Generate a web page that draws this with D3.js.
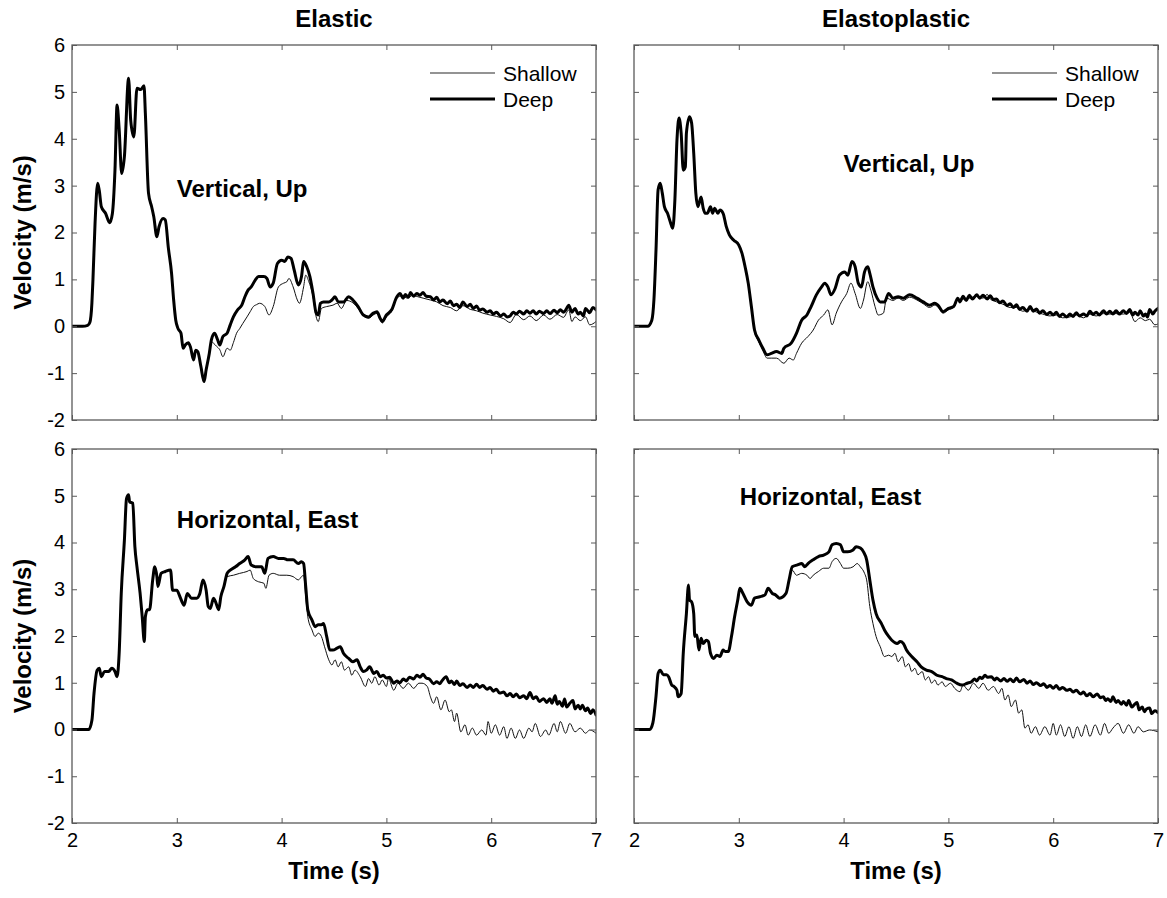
<!DOCTYPE html>
<html><head><meta charset="utf-8">
<script src="https://cdn.jsdelivr.net/npm/d3@7"></script>
<style>
body{margin:0;background:#fff;}
svg text{font-family:"Liberation Sans",Arial,Helvetica,sans-serif;}
</style>
</head><body>
<svg id="chart" width="1167" height="898"></svg>
<script>
// ---------------- data ----------------
const timeTicks = [2, 3, 4, 5, 6, 7];
const velocityTicks = [-2, -1, 0, 1, 2, 3, 4, 5, 6];
const columnTitles = ["Elastic", "Elastoplastic"];
const componentLabels = ["Vertical, Up", "Horizontal, East"];
const seriesNames = ["Shallow", "Deep"];
const xAxisTitle = "Time (s)";
const yAxisTitle = "Velocity (m/s)";

// [time (s), velocity (m/s)]
const elasticVerticalDeep = [[2.00,0],[2.10,0],[2.15,0.02],[2.17,0.08],[2.19,0.5],[2.20,1.0],[2.22,2.2],[2.245,3.05],[2.26,2.9],[2.28,2.55],[2.32,2.41],[2.36,2.21],[2.385,2.4],[2.41,3.33],[2.43,4.72],[2.45,4.2],[2.474,3.26],[2.50,3.62],[2.54,5.29],[2.56,4.4],[2.59,4.04],[2.62,5.08],[2.655,5.05],[2.687,5.13],[2.70,4.54],[2.73,2.84],[2.76,2.55],[2.78,2.34],[2.81,1.91],[2.83,2.12],[2.87,2.3],[2.89,2.27],[2.92,1.66],[2.95,1.13],[2.97,0.56],[2.99,0.13],[3.01,-0.04],[3.04,-0.15],[3.06,-0.47],[3.08,-0.4],[3.11,-0.35],[3.13,-0.44],[3.16,-0.72],[3.18,-0.51],[3.20,-0.54],[3.23,-0.86],[3.26,-1.18],[3.28,-0.93],[3.31,-0.58],[3.33,-0.29],[3.36,-0.15],[3.39,-0.29],[3.41,-0.40],[3.44,-0.22],[3.48,-0.15],[3.51,0.03],[3.54,0.20],[3.58,0.35],[3.62,0.45],[3.65,0.63],[3.68,0.77],[3.71,0.84],[3.75,0.99],[3.78,1.06],[3.83,1.06],[3.86,1.02],[3.89,0.84],[3.92,0.92],[3.96,1.34],[4.00,1.41],[4.03,1.38],[4.06,1.48],[4.09,1.45],[4.12,1.20],[4.16,0.88],[4.19,1.06],[4.21,1.38],[4.24,1.27],[4.27,1.06],[4.30,0.70],[4.33,0.28],[4.35,0.24],[4.37,0.49],[4.40,0.52],[4.45,0.52],[4.48,0.56],[4.51,0.63],[4.54,0.52],[4.59,0.52],[4.64,0.63],[4.68,0.56],[4.73,0.42],[4.78,0.24],[4.83,0.20],[4.875,0.28],[4.91,0.31],[4.94,0.17],[4.96,0.10],[5.00,0.24],[5.05,0.35],[5.10,0.63],[5.13,0.70],[5.16,0.60],[5.18,0.68],[5.21,0.62],[5.23,0.72],[5.26,0.64],[5.29,0.70],[5.32,0.66],[5.35,0.72],[5.38,0.64],[5.42,0.63],[5.45,0.56],[5.48,0.62],[5.51,0.52],[5.54,0.56],[5.58,0.48],[5.61,0.54],[5.64,0.44],[5.67,0.47],[5.70,0.40],[5.73,0.52],[5.77,0.42],[5.80,0.47],[5.83,0.38],[5.86,0.43],[5.89,0.34],[5.92,0.37],[5.96,0.30],[5.99,0.33],[6.02,0.26],[6.05,0.30],[6.09,0.22],[6.12,0.26],[6.15,0.20],[6.18,0.22],[6.21,0.30],[6.24,0.26],[6.27,0.32],[6.31,0.26],[6.34,0.33],[6.37,0.28],[6.40,0.33],[6.43,0.26],[6.46,0.32],[6.50,0.27],[6.53,0.33],[6.56,0.27],[6.60,0.34],[6.63,0.29],[6.66,0.35],[6.69,0.30],[6.72,0.38],[6.74,0.45],[6.77,0.30],[6.80,0.38],[6.83,0.26],[6.85,0.30],[6.88,0.22],[6.90,0.38],[6.94,0.29],[6.97,0.40],[7.00,0.35]];
const elasticVerticalShallow = [[2.00,0],[2.10,0],[2.15,0.02],[2.17,0.08],[2.19,0.5],[2.20,1.0],[2.22,2.2],[2.245,3.05],[2.26,2.9],[2.28,2.55],[2.32,2.41],[2.36,2.21],[2.385,2.4],[2.41,3.33],[2.43,4.72],[2.45,4.2],[2.474,3.26],[2.50,3.62],[2.54,5.29],[2.56,4.4],[2.59,4.04],[2.62,5.08],[2.655,5.05],[2.687,5.13],[2.70,4.54],[2.73,2.84],[2.76,2.55],[2.78,2.34],[2.81,1.91],[2.83,2.12],[2.87,2.3],[2.89,2.27],[2.92,1.66],[2.95,1.13],[2.97,0.56],[2.99,0.13],[3.01,-0.04],[3.04,-0.15],[3.06,-0.47],[3.08,-0.4],[3.11,-0.35],[3.13,-0.44],[3.16,-0.72],[3.18,-0.51],[3.20,-0.54],[3.23,-0.86],[3.26,-1.18],[3.28,-0.93],[3.31,-0.58],[3.33,-0.33],[3.35,-0.36],[3.38,-0.43],[3.41,-0.50],[3.44,-0.65],[3.48,-0.47],[3.51,-0.51],[3.54,-0.35],[3.57,-0.15],[3.60,-0.05],[3.63,0.06],[3.67,0.20],[3.70,0.31],[3.73,0.42],[3.76,0.46],[3.79,0.49],[3.84,0.42],[3.88,0.24],[3.92,0.42],[3.97,0.84],[4.02,0.92],[4.05,0.95],[4.07,1.02],[4.11,0.84],[4.15,0.56],[4.17,0.49],[4.21,0.84],[4.23,1.09],[4.26,0.95],[4.30,0.63],[4.33,0.20],[4.35,0.10],[4.38,0.38],[4.43,0.42],[4.49,0.45],[4.53,0.49],[4.57,0.38],[4.62,0.55],[4.68,0.50],[4.73,0.38],[4.78,0.22],[4.83,0.17],[4.88,0.25],[4.92,0.28],[4.96,0.07],[5.00,0.20],[5.05,0.32],[5.10,0.60],[5.15,0.65],[5.20,0.60],[5.25,0.66],[5.30,0.63],[5.35,0.60],[5.42,0.56],[5.48,0.52],[5.54,0.44],[5.61,0.40],[5.67,0.33],[5.73,0.44],[5.80,0.36],[5.86,0.33],[5.92,0.28],[5.99,0.24],[6.05,0.21],[6.12,0.16],[6.18,0.08],[6.24,0.25],[6.31,0.14],[6.37,0.22],[6.43,0.12],[6.50,0.24],[6.56,0.15],[6.63,0.25],[6.69,0.19],[6.74,0.35],[6.77,0.10],[6.80,0.20],[6.85,0.12],[6.90,0.20],[6.94,0.03],[7.00,0.10]];

const plasticVerticalDeep = [[2.00,0],[2.13,0],[2.17,0.13],[2.19,0.56],[2.21,1.63],[2.23,2.91],[2.25,3.05],[2.27,2.84],[2.29,2.55],[2.32,2.41],[2.35,2.2],[2.37,2.09],[2.39,2.69],[2.41,3.97],[2.43,4.44],[2.45,4.12],[2.47,3.33],[2.49,3.40],[2.50,4.12],[2.53,4.47],[2.55,4.33],[2.57,3.69],[2.59,2.84],[2.61,2.55],[2.64,2.76],[2.66,2.52],[2.68,2.41],[2.70,2.41],[2.73,2.55],[2.75,2.41],[2.77,2.52],[2.80,2.41],[2.82,2.48],[2.85,2.41],[2.88,2.13],[2.91,1.95],[2.95,1.84],[3.00,1.73],[3.03,1.56],[3.06,1.27],[3.09,0.92],[3.12,0.42],[3.15,-0.08],[3.19,-0.29],[3.23,-0.47],[3.27,-0.61],[3.31,-0.58],[3.36,-0.54],[3.41,-0.58],[3.43,-0.47],[3.50,-0.36],[3.55,-0.15],[3.60,0.13],[3.65,0.24],[3.69,0.42],[3.74,0.67],[3.79,0.84],[3.82,0.92],[3.85,0.84],[3.88,0.67],[3.92,0.81],[3.96,1.09],[4.01,1.16],[4.04,1.09],[4.08,1.38],[4.11,1.27],[4.14,0.92],[4.17,0.84],[4.20,1.16],[4.23,1.27],[4.25,1.13],[4.28,0.84],[4.32,0.60],[4.35,0.52],[4.39,0.52],[4.43,0.70],[4.47,0.60],[4.52,0.63],[4.57,0.60],[4.63,0.67],[4.70,0.60],[4.76,0.52],[4.82,0.45],[4.87,0.49],[4.90,0.45],[4.95,0.31],[5.00,0.38],[5.05,0.42],[5.09,0.60],[5.11,0.52],[5.14,0.64],[5.17,0.55],[5.20,0.66],[5.23,0.58],[5.27,0.67],[5.30,0.60],[5.33,0.66],[5.37,0.58],[5.40,0.65],[5.43,0.57],[5.46,0.58],[5.49,0.50],[5.52,0.54],[5.56,0.44],[5.59,0.48],[5.62,0.40],[5.65,0.46],[5.68,0.36],[5.71,0.40],[5.75,0.32],[5.78,0.42],[5.81,0.32],[5.84,0.37],[5.87,0.28],[5.90,0.33],[5.94,0.25],[5.97,0.30],[6.00,0.24],[6.03,0.30],[6.06,0.21],[6.09,0.26],[6.13,0.20],[6.16,0.26],[6.19,0.21],[6.22,0.29],[6.25,0.22],[6.29,0.26],[6.32,0.22],[6.35,0.32],[6.38,0.25],[6.41,0.30],[6.44,0.24],[6.48,0.33],[6.51,0.26],[6.54,0.32],[6.57,0.26],[6.60,0.33],[6.63,0.26],[6.67,0.33],[6.70,0.27],[6.73,0.36],[6.76,0.24],[6.78,0.30],[6.81,0.24],[6.83,0.33],[6.86,0.22],[6.88,0.26],[6.90,0.20],[6.92,0.36],[6.95,0.26],[6.97,0.32],[7.00,0.38]];
const plasticVerticalShallow = [[2.00,0],[2.13,0],[2.17,0.13],[2.19,0.56],[2.21,1.63],[2.23,2.91],[2.25,3.05],[2.27,2.84],[2.29,2.55],[2.32,2.41],[2.35,2.2],[2.37,2.09],[2.39,2.69],[2.41,3.97],[2.43,4.44],[2.45,4.12],[2.47,3.33],[2.49,3.40],[2.50,4.12],[2.53,4.47],[2.55,4.33],[2.57,3.69],[2.59,2.84],[2.61,2.55],[2.64,2.76],[2.66,2.52],[2.68,2.41],[2.70,2.41],[2.73,2.55],[2.75,2.41],[2.77,2.52],[2.80,2.41],[2.82,2.48],[2.85,2.41],[2.88,2.13],[2.91,1.95],[2.95,1.84],[3.00,1.73],[3.03,1.56],[3.06,1.27],[3.09,0.92],[3.12,0.42],[3.15,-0.10],[3.19,-0.33],[3.23,-0.52],[3.27,-0.68],[3.31,-0.68],[3.36,-0.68],[3.43,-0.79],[3.48,-0.68],[3.52,-0.72],[3.55,-0.58],[3.60,-0.36],[3.66,-0.22],[3.71,-0.08],[3.76,0.13],[3.81,0.24],[3.85,0.35],[3.89,0.03],[3.93,0.28],[3.98,0.52],[4.03,0.70],[4.07,0.92],[4.11,0.70],[4.16,0.38],[4.19,0.56],[4.23,0.95],[4.26,0.77],[4.30,0.42],[4.33,0.24],[4.38,0.28],[4.41,0.60],[4.47,0.55],[4.52,0.60],[4.57,0.55],[4.63,0.62],[4.70,0.56],[4.76,0.48],[4.82,0.40],[4.87,0.45],[4.90,0.41],[4.95,0.28],[5.00,0.35],[5.05,0.40],[5.09,0.56],[5.14,0.58],[5.20,0.60],[5.27,0.64],[5.33,0.60],[5.37,0.68],[5.40,0.58],[5.46,0.52],[5.52,0.47],[5.59,0.40],[5.65,0.40],[5.71,0.32],[5.78,0.37],[5.84,0.30],[5.90,0.26],[5.97,0.22],[6.03,0.24],[6.09,0.18],[6.16,0.20],[6.22,0.24],[6.29,0.18],[6.35,0.26],[6.41,0.22],[6.48,0.27],[6.54,0.26],[6.60,0.27],[6.67,0.26],[6.73,0.30],[6.78,0.10],[6.83,0.18],[6.88,0.12],[6.92,0.15],[6.97,0.03],[7.00,0.05]];

const elasticHorizontalDeep = [[2.00,0],[2.16,0],[2.19,0.2],[2.21,0.77],[2.24,1.27],[2.26,1.31],[2.28,1.13],[2.31,1.24],[2.35,1.24],[2.38,1.31],[2.41,1.24],[2.43,1.13],[2.45,1.63],[2.47,2.91],[2.50,4.05],[2.52,4.94],[2.54,5.02],[2.55,4.87],[2.58,4.84],[2.60,3.91],[2.62,3.48],[2.65,2.91],[2.67,2.41],[2.69,1.88],[2.70,2.41],[2.72,2.56],[2.74,2.56],[2.77,3.20],[2.79,3.48],[2.81,3.27],[2.82,3.06],[2.85,3.34],[2.89,3.38],[2.94,3.41],[2.96,2.98],[3.00,2.98],[3.03,2.84],[3.07,2.66],[3.10,2.91],[3.14,2.81],[3.19,2.81],[3.22,2.91],[3.25,3.20],[3.28,2.98],[3.30,2.63],[3.32,2.59],[3.35,2.81],[3.37,2.73],[3.40,2.56],[3.42,2.84],[3.45,3.06],[3.48,3.34],[3.51,3.41],[3.56,3.48],[3.60,3.55],[3.65,3.63],[3.68,3.70],[3.71,3.52],[3.76,3.48],[3.81,3.48],[3.84,3.34],[3.87,3.66],[3.92,3.70],[3.97,3.66],[4.02,3.66],[4.06,3.63],[4.11,3.63],[4.16,3.55],[4.19,3.59],[4.21,3.55],[4.23,3.06],[4.25,2.56],[4.29,2.34],[4.32,2.20],[4.35,2.24],[4.38,2.24],[4.40,2.27],[4.43,1.99],[4.46,1.70],[4.49,1.70],[4.53,1.74],[4.56,1.77],[4.59,1.63],[4.64,1.52],[4.68,1.45],[4.72,1.49],[4.75,1.34],[4.78,1.24],[4.81,1.27],[4.84,1.34],[4.88,1.20],[4.91,1.24],[4.94,1.13],[4.97,1.16],[5.00,1.10],[5.03,1.12],[5.07,0.99],[5.10,1.04],[5.13,1.00],[5.16,1.08],[5.19,1.04],[5.22,1.12],[5.26,1.08],[5.29,1.16],[5.32,1.12],[5.35,1.18],[5.38,1.10],[5.41,1.08],[5.45,0.98],[5.48,1.02],[5.51,0.98],[5.53,1.04],[5.57,1.13],[5.60,1.00],[5.62,1.04],[5.65,0.96],[5.67,1.04],[5.70,0.94],[5.73,0.98],[5.77,0.90],[5.80,0.95],[5.83,0.90],[5.86,0.97],[5.89,0.90],[5.92,0.94],[5.96,0.86],[5.99,0.90],[6.02,0.82],[6.05,0.86],[6.08,0.78],[6.12,0.80],[6.15,0.72],[6.18,0.77],[6.21,0.70],[6.24,0.76],[6.27,0.68],[6.31,0.72],[6.34,0.66],[6.37,0.79],[6.40,0.66],[6.43,0.70],[6.46,0.60],[6.50,0.66],[6.53,0.58],[6.56,0.66],[6.58,0.56],[6.61,0.72],[6.63,0.54],[6.65,0.60],[6.68,0.50],[6.70,0.65],[6.72,0.48],[6.75,0.56],[6.78,0.62],[6.80,0.44],[6.83,0.52],[6.85,0.44],[6.87,0.52],[6.90,0.40],[6.92,0.46],[6.95,0.34],[6.97,0.42],[7.00,0.31]];
const elasticHorizontalShallow = [[2.00,0],[2.16,0],[2.19,0.2],[2.21,0.77],[2.24,1.27],[2.26,1.31],[2.28,1.13],[2.31,1.24],[2.35,1.24],[2.38,1.31],[2.41,1.24],[2.43,1.13],[2.45,1.63],[2.47,2.91],[2.50,4.05],[2.52,4.94],[2.54,5.02],[2.55,4.87],[2.58,4.84],[2.60,3.91],[2.62,3.48],[2.65,2.91],[2.67,2.41],[2.69,1.88],[2.70,2.41],[2.72,2.56],[2.74,2.56],[2.77,3.20],[2.79,3.48],[2.81,3.27],[2.82,3.06],[2.85,3.34],[2.89,3.38],[2.94,3.41],[2.96,2.98],[3.00,2.98],[3.03,2.84],[3.07,2.66],[3.10,2.91],[3.14,2.81],[3.19,2.81],[3.22,2.91],[3.25,3.20],[3.28,2.98],[3.30,2.63],[3.32,2.59],[3.35,2.81],[3.37,2.73],[3.40,2.56],[3.42,2.84],[3.45,3.04],[3.48,3.27],[3.54,3.30],[3.60,3.34],[3.67,3.38],[3.70,3.41],[3.73,3.23],[3.78,3.16],[3.83,3.13],[3.85,3.02],[3.88,3.30],[3.92,3.34],[3.98,3.30],[4.05,3.30],[4.11,3.27],[4.16,3.20],[4.19,3.27],[4.21,3.30],[4.23,2.84],[4.25,2.41],[4.29,2.13],[4.32,1.99],[4.35,2.06],[4.38,1.99],[4.41,1.77],[4.45,1.49],[4.48,1.38],[4.51,1.49],[4.54,1.34],[4.57,1.45],[4.60,1.27],[4.64,1.34],[4.67,1.16],[4.70,1.27],[4.75,1.13],[4.80,0.92],[4.83,1.09],[4.86,0.99],[4.89,1.13],[4.93,0.95],[4.96,1.06],[5.00,0.92],[5.02,1.09],[5.07,0.84],[5.11,0.99],[5.16,0.88],[5.21,0.99],[5.26,0.88],[5.31,0.99],[5.34,0.99],[5.39,0.92],[5.42,0.70],[5.45,0.56],[5.48,0.70],[5.52,0.42],[5.56,0.63],[5.60,0.38],[5.62,0.42],[5.65,0.17],[5.67,0.35],[5.71,-0.05],[5.75,0.10],[5.78,-0.12],[5.82,0.03],[5.86,-0.12],[5.91,-0.01],[5.95,-0.12],[5.97,0.17],[6.00,-0.08],[6.04,0.10],[6.08,-0.12],[6.12,0.06],[6.15,-0.19],[6.19,0.03],[6.23,-0.19],[6.27,-0.01],[6.31,-0.19],[6.36,0.03],[6.39,-0.05],[6.42,0.13],[6.47,-0.15],[6.52,-0.01],[6.55,-0.12],[6.60,0.13],[6.63,-0.05],[6.66,0.17],[6.71,-0.08],[6.75,0.13],[6.80,-0.05],[6.85,0.03],[6.90,-0.08],[6.94,-0.01],[7.00,-0.08]];

const plasticHorizontalDeep = [[2.00,0],[2.15,0],[2.18,0.14],[2.21,0.71],[2.23,1.20],[2.25,1.27],[2.28,1.17],[2.31,1.17],[2.33,1.13],[2.36,0.95],[2.38,0.92],[2.41,0.84],[2.42,0.70],[2.45,0.77],[2.47,1.63],[2.50,2.48],[2.52,3.09],[2.53,2.77],[2.55,2.73],[2.57,2.48],[2.58,1.99],[2.60,2.02],[2.62,1.70],[2.64,1.95],[2.66,1.84],[2.69,1.91],[2.71,1.88],[2.73,1.63],[2.76,1.52],[2.79,1.59],[2.82,1.56],[2.85,1.70],[2.87,1.67],[2.90,1.67],[2.93,1.99],[2.96,2.41],[2.99,2.77],[3.01,3.02],[3.04,2.91],[3.08,2.73],[3.12,2.66],[3.15,2.81],[3.20,2.84],[3.25,2.88],[3.28,3.02],[3.32,2.91],[3.35,2.88],[3.39,2.81],[3.45,2.91],[3.48,3.20],[3.51,3.48],[3.56,3.52],[3.60,3.55],[3.63,3.48],[3.66,3.55],[3.71,3.63],[3.76,3.70],[3.81,3.73],[3.86,3.80],[3.89,3.95],[3.93,3.98],[3.97,3.95],[4.00,3.80],[4.04,3.80],[4.09,3.84],[4.12,3.91],[4.16,3.88],[4.19,3.80],[4.22,3.63],[4.25,3.20],[4.28,2.77],[4.31,2.48],[4.36,2.27],[4.39,2.13],[4.43,1.99],[4.46,1.91],[4.51,1.84],[4.54,1.88],[4.57,1.84],[4.60,1.70],[4.65,1.56],[4.70,1.45],[4.74,1.34],[4.79,1.27],[4.84,1.24],[4.89,1.16],[4.94,1.13],[4.98,1.09],[5.03,1.06],[5.08,0.99],[5.13,0.95],[5.18,0.99],[5.22,1.02],[5.25,1.08],[5.27,1.04],[5.30,1.12],[5.32,1.09],[5.35,1.16],[5.37,1.12],[5.41,1.13],[5.44,1.06],[5.46,1.10],[5.50,1.04],[5.53,1.09],[5.56,1.03],[5.59,1.08],[5.62,1.02],[5.65,1.10],[5.68,1.02],[5.72,1.07],[5.75,0.99],[5.78,1.04],[5.81,0.96],[5.84,1.00],[5.88,0.94],[5.91,0.98],[5.94,0.90],[5.97,0.94],[6.00,0.88],[6.03,0.94],[6.06,0.86],[6.09,0.90],[6.13,0.84],[6.16,0.86],[6.19,0.80],[6.22,0.84],[6.26,0.76],[6.29,0.80],[6.32,0.72],[6.35,0.77],[6.38,0.70],[6.42,0.76],[6.45,0.68],[6.48,0.70],[6.50,0.62],[6.52,0.66],[6.55,0.60],[6.57,0.70],[6.60,0.58],[6.62,0.62],[6.65,0.54],[6.67,0.60],[6.70,0.52],[6.72,0.62],[6.75,0.48],[6.77,0.52],[6.80,0.58],[6.82,0.42],[6.85,0.48],[6.87,0.38],[6.89,0.44],[6.92,0.46],[6.94,0.34],[6.97,0.40],[7.00,0.36]];
const plasticHorizontalShallow = [[2.00,0],[2.15,0],[2.18,0.14],[2.21,0.71],[2.23,1.20],[2.25,1.27],[2.28,1.17],[2.31,1.17],[2.33,1.13],[2.36,0.95],[2.38,0.92],[2.41,0.84],[2.42,0.70],[2.45,0.77],[2.47,1.63],[2.50,2.48],[2.52,3.09],[2.53,2.77],[2.55,2.73],[2.57,2.48],[2.58,1.99],[2.60,2.02],[2.62,1.70],[2.64,1.95],[2.66,1.84],[2.69,1.91],[2.71,1.88],[2.73,1.63],[2.76,1.52],[2.79,1.59],[2.82,1.56],[2.85,1.70],[2.87,1.67],[2.90,1.67],[2.93,1.99],[2.96,2.41],[2.99,2.77],[3.01,3.02],[3.04,2.91],[3.08,2.73],[3.12,2.66],[3.15,2.81],[3.20,2.84],[3.25,2.88],[3.28,3.02],[3.32,2.91],[3.35,2.88],[3.39,2.81],[3.45,2.91],[3.48,3.18],[3.51,3.41],[3.55,3.30],[3.60,3.34],[3.65,3.30],[3.68,3.23],[3.71,3.30],[3.76,3.38],[3.81,3.45],[3.86,3.45],[3.89,3.59],[3.93,3.66],[3.97,3.55],[4.00,3.45],[4.04,3.45],[4.09,3.48],[4.13,3.55],[4.16,3.48],[4.20,3.34],[4.22,3.20],[4.25,2.63],[4.28,2.27],[4.31,1.99],[4.35,1.77],[4.39,1.56],[4.43,1.59],[4.46,1.56],[4.49,1.63],[4.52,1.45],[4.56,1.56],[4.59,1.34],[4.62,1.41],[4.65,1.24],[4.68,1.31],[4.71,1.17],[4.75,1.24],[4.78,1.06],[4.81,1.13],[4.84,0.99],[4.87,1.06],[4.90,0.95],[4.94,1.02],[4.97,0.92],[5.02,0.99],[5.06,0.88],[5.11,0.81],[5.14,0.95],[5.19,0.84],[5.24,0.99],[5.29,0.88],[5.33,0.99],[5.38,0.84],[5.43,0.92],[5.48,0.77],[5.51,0.88],[5.54,0.63],[5.57,0.74],[5.60,0.49],[5.64,0.63],[5.67,0.35],[5.70,0.42],[5.73,0.03],[5.76,0.10],[5.79,-0.08],[5.83,0.06],[5.87,-0.12],[5.92,0.06],[5.97,-0.12],[6.00,0.13],[6.03,-0.12],[6.07,0.10],[6.11,-0.15],[6.15,0.06],[6.19,-0.19],[6.23,0.06],[6.27,-0.15],[6.31,0.10],[6.35,-0.15],[6.40,0.10],[6.45,-0.12],[6.49,0.13],[6.53,-0.08],[6.57,0.03],[6.62,0.13],[6.67,-0.08],[6.72,0.10],[6.77,-0.08],[6.81,0.06],[6.86,-0.05],[6.92,-0.01],[7.00,-0.05]];

// ---------------- drawing ----------------
const svg = d3.select("#chart");
const cols = [{x0: 72, x1: 596}, {x0: 634, x1: 1158}];
const rows = [{y0: 45, y1: 420}, {y0: 449, y1: 823}];

const panels = [
  {row: 0, col: 0, shallow: elasticVerticalShallow, deep: elasticVerticalDeep, label: componentLabels[0], labelAt: [3.0, 2.76]},
  {row: 0, col: 1, shallow: plasticVerticalShallow, deep: plasticVerticalDeep, label: componentLabels[0], labelAt: [4.0, 3.30]},
  {row: 1, col: 0, shallow: elasticHorizontalShallow, deep: elasticHorizontalDeep, label: componentLabels[1], labelAt: [3.0, 4.30]},
  {row: 1, col: 1, shallow: plasticHorizontalShallow, deep: plasticHorizontalDeep, label: componentLabels[1], labelAt: [3.01, 4.80]}
];

const frameColor = "#5a5a5a";
const plainFormat = d => String(d); // hyphen-minus like the original

panels.forEach((p, i) => {
  const c = cols[p.col], r = rows[p.row];
  const x = d3.scaleLinear().domain([2, 7]).range([c.x0, c.x1]);
  const y = d3.scaleLinear().domain([-2, 6]).range([r.y1, r.y0]);
  const g = svg.append("g");

  const clipId = "clip" + i;
  svg.append("clipPath").attr("id", clipId).append("rect")
    .attr("x", c.x0).attr("y", r.y0).attr("width", c.x1 - c.x0).attr("height", r.y1 - r.y0);

  const line = d3.line().curve(d3.curveMonotoneX).x(d => x(d[0])).y(d => y(d[1]));

  const lines = g.append("g").attr("clip-path", `url(#${clipId})`);
  lines.append("path").datum(p.shallow)
    .attr("d", line).attr("fill", "none").attr("stroke", "#111").attr("stroke-width", 1)
    .attr("stroke-linejoin", "round");
  lines.append("path").datum(p.deep)
    .attr("d", line).attr("fill", "none").attr("stroke", "#000").attr("stroke-width", 3)
    .attr("stroke-linejoin", "round").attr("stroke-linecap", "round");

  const styleAxis = sel => {
    sel.select(".domain").remove();
    sel.selectAll(".tick line").attr("stroke", frameColor).attr("stroke-width", 1);
    sel.selectAll(".tick text").attr("fill", "#000").attr("font-size", 20)
      .attr("font-family", '"Liberation Sans", Arial, sans-serif');
  };

  g.append("g").attr("transform", `translate(0,${r.y1})`)
    .call(d3.axisBottom(x).tickValues(timeTicks).tickSize(-5).tickPadding(10)
      .tickFormat(p.row === 1 ? plainFormat : () => ""))
    .call(styleAxis);
  g.append("g").attr("transform", `translate(0,${r.y0})`)
    .call(d3.axisTop(x).tickValues(timeTicks).tickSize(-5).tickFormat(() => ""))
    .call(styleAxis);
  g.append("g").attr("transform", `translate(${c.x0},0)`)
    .call(d3.axisLeft(y).tickValues(velocityTicks).tickSize(-5).tickPadding(7)
      .tickFormat(p.col === 0 ? plainFormat : () => ""))
    .call(styleAxis);
  g.append("g").attr("transform", `translate(${c.x1},0)`)
    .call(d3.axisRight(y).tickValues(velocityTicks).tickSize(-5).tickFormat(() => ""))
    .call(styleAxis);

  g.append("rect").attr("x", c.x0).attr("y", r.y0)
    .attr("width", c.x1 - c.x0).attr("height", r.y1 - r.y0)
    .attr("fill", "none").attr("stroke", frameColor).attr("stroke-width", 1.3);

  // annotation
  g.append("text").attr("x", x(p.labelAt[0])).attr("y", y(p.labelAt[1]))
    .attr("font-size", 24).attr("font-weight", "bold").text(p.label);

  // legend (top row)
  if (p.row === 0) {
    const lg = g.append("g");
    const items = [{name: seriesNames[0], w: 1.4, col: "#6f6f6f", dy: 28}, {name: seriesNames[1], w: 3, col: "#000", dy: 54}];
    items.forEach(it => {
      lg.append("line").attr("x1", c.x0 + 358).attr("x2", c.x0 + 423)
        .attr("y1", r.y0 + it.dy).attr("y2", r.y0 + it.dy)
        .attr("stroke", it.col).attr("stroke-width", it.w);
      lg.append("text").attr("x", c.x0 + 431).attr("y", r.y0 + it.dy).attr("dy", "0.36em")
        .attr("font-size", 21).text(it.name);
    });
  }

  // column titles
  if (p.row === 0) {
    svg.append("text").attr("x", (c.x0 + c.x1) / 2).attr("y", 27)
      .attr("text-anchor", "middle").attr("font-size", 24).attr("font-weight", "bold")
      .text(columnTitles[p.col]);
  }
  // x title
  if (p.row === 1) {
    svg.append("text").attr("x", (c.x0 + c.x1) / 2).attr("y", 879)
      .attr("text-anchor", "middle").attr("font-size", 24).attr("font-weight", "bold")
      .text(xAxisTitle);
  }
  // y title
  if (p.col === 0) {
    const cy = (r.y0 + r.y1) / 2;
    svg.append("text").attr("transform", `translate(31,${cy}) rotate(-90)`)
      .attr("text-anchor", "middle").attr("font-size", 24).attr("font-weight", "bold")
      .text(yAxisTitle);
  }
});
</script>
</body></html>
